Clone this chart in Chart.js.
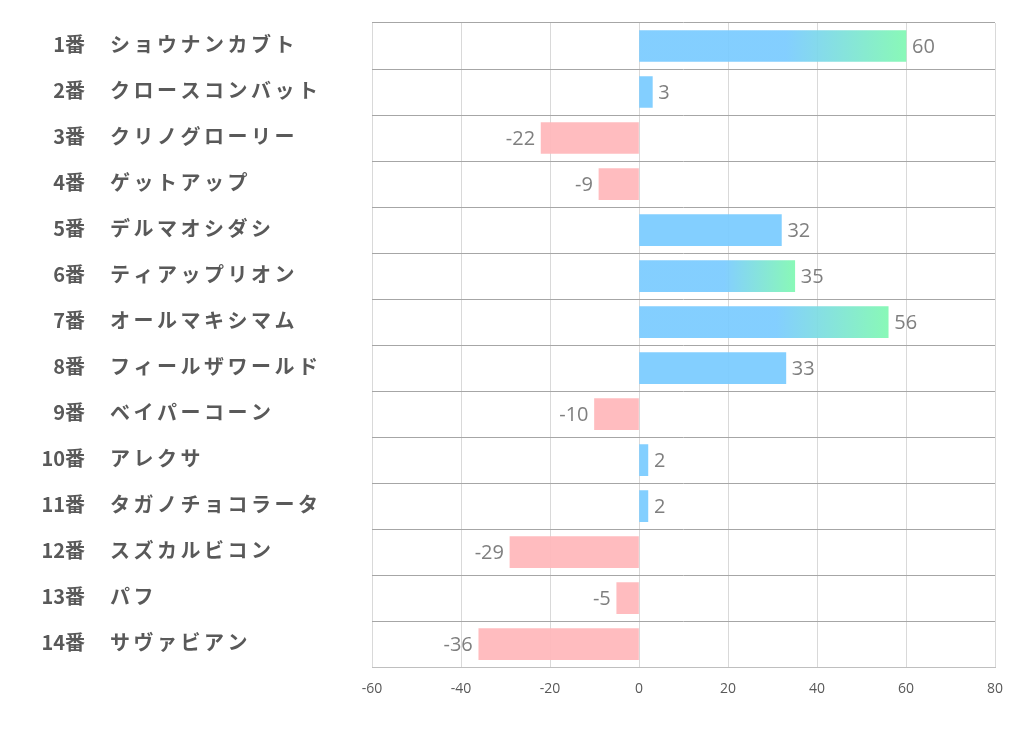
<!DOCTYPE html>
<html>
<head>
<meta charset="utf-8">
<script src="https://cdn.jsdelivr.net/npm/chart.js@4"></script>
<style>
  html, body { margin: 0; padding: 0; background: #ffffff; }
  #wrap { width: 1022px; height: 730px; }
</style>
</head>
<body>
<div id="wrap"><canvas id="chart" width="1022" height="730"></canvas></div>
<script>
const numbers = ["1番", "2番", "3番", "4番", "5番", "6番", "7番", "8番", "9番", "10番", "11番", "12番", "13番", "14番"];
const horses = ["ショウナンカブト", "クロースコンバット", "クリノグローリー", "ゲットアップ", "デルマオシダシ", "ティアップリオン", "オールマキシマム", "フィールザワールド", "ベイパーコーン", "アレクサ", "タガノチョコラータ", "スズカルビコン", "パフ", "サヴァビアン"];
const scores = [60, 3, -22, -9, 32, 35, 56, 33, -10, 2, 2, -29, -5, -36];
const highlighted = [1, 6, 7];
const xTicks = [-60, -40, -20, 0, 20, 40, 60, 80];

const BLUE = "rgba(122, 203, 255, 0.93)";
const GREEN = "rgba(128, 248, 178, 0.93)";
const PINK = "rgba(255, 183, 186, 0.93)";

function barColor(ctx) {
  const chart = ctx.chart;
  const v = ctx.raw;
  if (v < 0) return PINK;
  if (!highlighted.includes(ctx.dataIndex + 1)) return BLUE;
  const xs = chart.scales.x;
  if (!chart.chartArea || !xs) return BLUE;
  const x0 = xs.getPixelForValue(0);
  const x1 = xs.getPixelForValue(v);
  const g = chart.ctx.createLinearGradient(x0, 0, x1, 0);
  g.addColorStop(0, BLUE);
  g.addColorStop(0.55, BLUE);
  g.addColorStop(1, GREEN);
  return g;
}

const labelPlugin = {
  id: "labels",
  afterDatasetsDraw(chart) {
    const ctx = chart.ctx;
    const xs = chart.scales.x;
    const ys = chart.scales.y;
    ctx.save();
    ctx.textBaseline = "middle";
    // left side names
    ctx.fillStyle = "#595959";
    ctx.font = "bold 20px 'Noto Sans CJK JP'";
    numbers.forEach((n, i) => {
      const y = ys.getPixelForValue(i) - 2;
      ctx.letterSpacing = "0px";
      ctx.textAlign = "right";
      ctx.fillText(n, 85, y);
      ctx.letterSpacing = "3.5px";
      ctx.textAlign = "left";
      ctx.fillText(horses[i], 110, y);
    });
    ctx.letterSpacing = "0px";
    // value labels
    ctx.fillStyle = "#7f7f7f";
    ctx.font = "20px 'Open Sans'";
    scores.forEach((v, i) => {
      const y = ys.getPixelForValue(i) + 1;
      const x = xs.getPixelForValue(v);
      if (v >= 0) {
        ctx.textAlign = "left";
        ctx.fillText(String(v), x + 6, y);
      } else {
        ctx.textAlign = "right";
        ctx.fillText(String(v), x - 6, y);
      }
    });
    ctx.restore();
  }
};

new Chart(document.getElementById("chart"), {
  type: "bar",
  data: {
    labels: horses,
    datasets: [{
      data: scores,
      backgroundColor: barColor,
      borderWidth: 0,
      barThickness: 31
    }]
  },
  options: {
    responsive: false,
    animation: false,
    indexAxis: "y",
    layout: { padding: { left: 372, right: 27, top: 23, bottom: 20 } },
    plugins: { legend: { display: false }, tooltip: { enabled: false } },
    scales: {
      x: {
        min: -60,
        max: 80,
        afterBuildTicks(axis) { axis.ticks = xTicks.map(v => ({ value: v })); },
        grid: { color: "#d9d9d9", lineWidth: 1, drawTicks: false },
        border: { display: true, color: "#bfbfbf" },
        ticks: { color: "#595959", font: { size: 14, family: "'Open Sans'" }, padding: 13 }
      },
      y: {
        grid: { color: "#a6a6a6", lineWidth: 1, offset: true, drawTicks: false },
        border: { display: false },
        ticks: { display: false }
      }
    }
  },
  plugins: [labelPlugin]
});
</script>
</body>
</html>
